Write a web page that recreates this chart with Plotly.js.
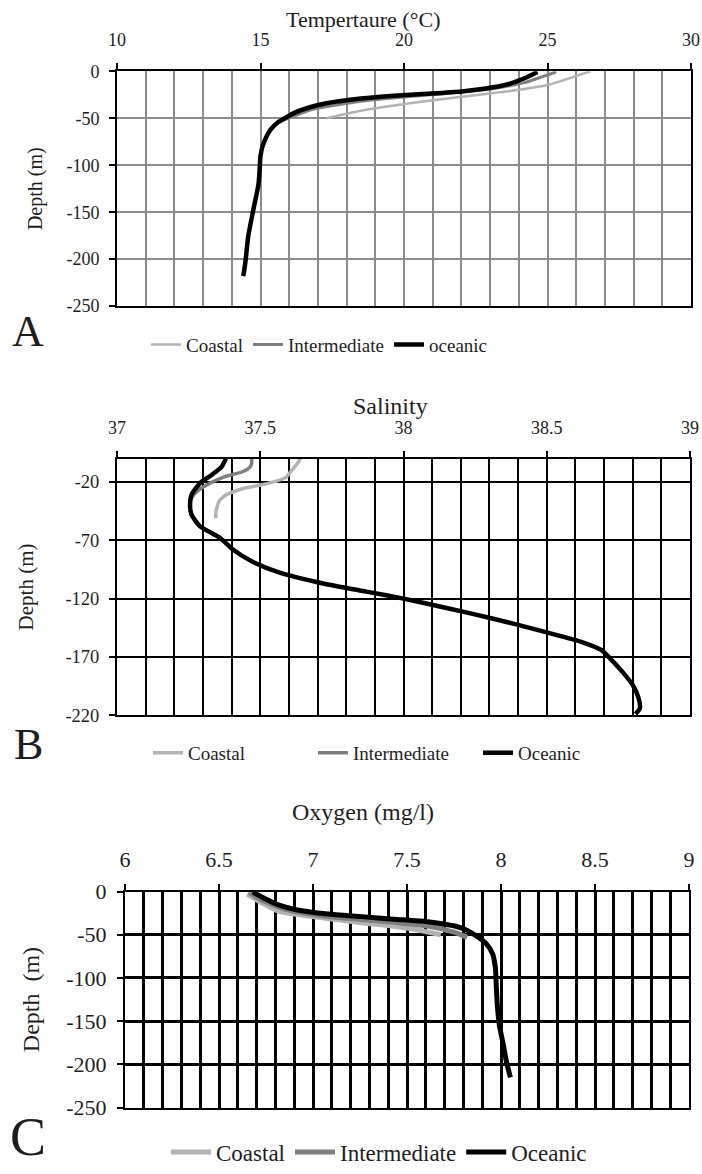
<!DOCTYPE html>
<html>
<head>
<meta charset="utf-8">
<script src="https://cdn.plot.ly/plotly-3.0.1.min.js"></script>
<style>
html,body{margin:0;padding:0;background:#fff;overflow:hidden;}
#chart{width:702px;height:1174px;}
</style>
</head>
<body>
<div id="chart"></div>
<script>
// ---------- DATA ----------
const seriesNamesA = ["Coastal", "Intermediate", "oceanic"];
const seriesNamesBC = ["Coastal", "Intermediate", "Oceanic"];

// Panel A: Temperature (°C) vs depth (m)
const tempCoastalDepth = [0, -6, -10, -14.6, -21, -27, -34, -42, -50];
const tempCoastal      = [26.5, 25.9, 25.5, 25.0, 23.7, 22.0, 20.2, 18.5, 17.3];
const tempInterDepth   = [-0.7, -6, -12, -18, -22, -26, -30, -35, -40, -46, -52];
const tempInter        = [25.3, 24.8, 24.2, 23.2, 22.0, 20.5, 19.0, 17.8, 16.9, 16.3, 15.8];
const tempOceanicDepth = [-0.7, -6, -13, -17, -21.5, -24, -26, -29, -34, -38, -44, -54.5, -62, -70, -80, -90, -99, -110, -120, -130, -140, -152, -166, -176, -190, -204, -218];
const tempOceanic      = [24.65, 24.3, 23.7, 23.1, 22.0, 20.8, 19.65, 18.5, 17.3, 16.75, 16.2, 15.6, 15.35, 15.2, 15.07, 15.0, 14.98, 14.96, 14.93, 14.87, 14.8, 14.72, 14.63, 14.57, 14.52, 14.47, 14.4];

// Panel B: Salinity vs depth (m)
const salCoastalDepth = [0, -4, -8.5, -13, -16, -21, -26, -30, -33, -37, -41, -46, -51];
const salCoastal      = [37.64, 37.63, 37.615, 37.6, 37.59, 37.53, 37.435, 37.39, 37.37, 37.355, 37.35, 37.345, 37.345];
const salInterDepth   = [0, -4, -7, -11, -16, -21, -27, -33, -38, -42];
const salInter        = [37.47, 37.47, 37.465, 37.44, 37.37, 37.325, 37.285, 37.262, 37.255, 37.255];
const salOceanicDepth = [0, -7, -14, -21, -31, -40, -48, -58, -68, -77, -88, -97, -107, -114, -120, -128, -137, -147, -157, -164, -171, -183, -194, -205, -214, -219];
const salOceanic      = [37.38, 37.365, 37.33, 37.29, 37.26, 37.255, 37.26, 37.29, 37.36, 37.40, 37.47, 37.56, 37.72, 37.87, 38.0, 38.15, 38.31, 38.47, 38.62, 38.69, 38.72, 38.765, 38.80, 38.82, 38.825, 38.81];

// Panel C: Oxygen (mg/l) vs depth (m)
const oxyCoastalDepth = [-3, -12, -23, -29, -36, -43, -50];
const oxyCoastal      = [6.65, 6.72, 6.82, 7.0, 7.26, 7.52, 7.68];
const oxyInterDepth   = [-1, -10, -21, -29, -34, -40, -47, -53];
const oxyInter        = [6.66, 6.73, 6.86, 7.08, 7.35, 7.61, 7.75, 7.82];
const oxyOceanicDepth = [-0.5, -6.6, -15.8, -21, -26, -29, -32, -35, -41.5, -50, -60, -72, -88, -110, -130, -153, -175, -198, -215];
const oxyOceanic      = [6.68, 6.73, 6.82, 6.91, 7.08, 7.26, 7.43, 7.61, 7.78, 7.86, 7.92, 7.955, 7.97, 7.975, 7.98, 7.99, 8.01, 8.03, 8.05];

// Tick labels (hyphen-minus, as in the original)
const depthTicksA = [0, -50, -100, -150, -200, -250];
const depthTickTextA = ["0", "-50", "-100", "-150", "-200", "-250"];
const depthTicksB = [-20, -70, -120, -170, -220];
const depthTickTextB = ["-20", "-70", "-120", "-170", "-220"];

// Titles / labels
const titleA = "Tempertaure (°C)";
const titleB = "Salinity";
const titleC = "Oxygen (mg/l)";
const depthTitle = "Depth (m)";
const depthTitleC = "Depth\u00a0 (m)";
const panelLetters = ["A", "B", "C"];

// ---------- LAYOUT HELPERS ----------
const W = 702, H = 1174;
const px = x => x / W;
const py = y => 1 - y / H;
const serif = 'Liberation Serif, Times New Roman, serif';
const txt = '#1e1e1e';
const cCoastal = '#b3b3b3', cInter = '#7f7f7f', cOce = '#000000';

function tr(x, y, name, color, width, xa, ya, leg) {
  return {
    type: 'scatter', mode: 'lines', x: x, y: y, name: name,
    line: {color: color, width: width, shape: 'spline', smoothing: 0.6},
    xaxis: xa, yaxis: ya, legend: leg, hoverinfo: 'skip'
  };
}

const data = [
  tr(tempCoastal, tempCoastalDepth, seriesNamesA[0], cCoastal, 2.5, 'x', 'y', 'legend'),
  tr(tempInter, tempInterDepth, seriesNamesA[1], cInter, 3, 'x', 'y', 'legend'),
  tr(tempOceanic, tempOceanicDepth, seriesNamesA[2], cOce, 4.5, 'x', 'y', 'legend'),
  tr(salCoastal, salCoastalDepth, seriesNamesBC[0], cCoastal, 3.5, 'x2', 'y2', 'legend2'),
  tr(salInter, salInterDepth, seriesNamesBC[1], cInter, 3.5, 'x2', 'y2', 'legend2'),
  tr(salOceanic, salOceanicDepth, seriesNamesBC[2], cOce, 4.5, 'x2', 'y2', 'legend2'),
  tr(oxyCoastal, oxyCoastalDepth, seriesNamesBC[0], cCoastal, 5, 'x3', 'y3', 'legend3'),
  tr(oxyInter, oxyInterDepth, seriesNamesBC[1], cInter, 5, 'x3', 'y3', 'legend3'),
  tr(oxyOceanic, oxyOceanicDepth, seriesNamesBC[2], cOce, 5, 'x3', 'y3', 'legend3')
];

function xax(domain, range, dtick, minorDtick, gridColor, gridW, anchor, fontSize, standoff) {
  return {
    domain: domain, range: range, side: 'top', anchor: anchor,
    tick0: range[0], dtick: dtick, ticks: 'outside', ticklen: 6, tickwidth: 2, tickcolor: '#000',
    showline: true, linewidth: 2, linecolor: '#000', mirror: true,
    showgrid: true, gridcolor: gridColor, gridwidth: gridW, zeroline: false,
    minor: {dtick: minorDtick, showgrid: true, gridcolor: gridColor, gridwidth: gridW, ticks: ''},
    tickfont: {family: serif, size: fontSize, color: txt},
    ticklabelstandoff: standoff, fixedrange: true, automargin: false
  };
}
function yax(domain, range, tickvals, ticktext, gridColor, gridW, anchor, fontSize, title, titleSize, titleStandoff) {
  return {
    domain: domain, range: range, anchor: anchor,
    tickmode: 'array', tickvals: tickvals, ticktext: ticktext,
    ticks: 'outside', ticklen: 6, tickwidth: 2, tickcolor: '#000',
    showline: true, linewidth: 2, linecolor: '#000', mirror: true,
    showgrid: true, gridcolor: gridColor, gridwidth: gridW, zeroline: false,
    tickfont: {family: serif, size: fontSize, color: txt},
    ticklabelstandoff: 6,
    title: {text: title, font: {family: serif, size: titleSize, color: txt}, standoff: titleStandoff},
    fixedrange: true, automargin: false
  };
}

function ann(text, x, y, size) {
  return {text: text, xref: 'paper', yref: 'paper', x: px(x), y: py(y),
          xanchor: 'center', yanchor: 'middle', showarrow: false,
          font: {family: serif, size: size, color: txt}};
}

function leg(x, y, size, extra) {
  return Object.assign({
    orientation: 'h', x: px(x), y: py(y), xanchor: 'left', yanchor: 'middle',
    font: {family: serif, size: size, color: txt}, bgcolor: 'rgba(0,0,0,0)', borderwidth: 0
  }, extra || {});
}

const layout = {
  width: W, height: H,
  margin: {l: 0, r: 0, t: 0, b: 0},
  paper_bgcolor: '#fff', plot_bgcolor: '#fff',
  font: {family: serif, color: txt},
  showlegend: true,
  xaxis:  xax([px(117), px(691)], [10, 30], 5, 1, '#8c8c8c', 2, 'y', 18, 10),
  yaxis:  yax([py(309), py(72)], [-250, 0], depthTicksA, depthTickTextA, '#8c8c8c', 2, 'x', 18, depthTitle, 20, 18),
  xaxis2: xax([px(117), px(690)], [37, 39], 0.5, 0.1, '#000', 2, 'y2', 18, 9),
  yaxis2: yax([py(722), py(463)], [-220, 0], depthTicksB, depthTickTextB, '#000', 2, 'x2', 18.5, depthTitle, 21, 26),
  xaxis3: xax([px(125), px(689)], [6, 9], 0.5, 0.1, '#000', 3, 'y3', 22, 8),
  yaxis3: yax([py(1118), py(900)], [-250, 0], depthTicksA, depthTickTextA, '#000', 3, 'x3', 22, depthTitleC, 24, 20),
  legend:  leg(146, 348, 19),
  legend2: leg(148, 760, 19, {entrywidth: 120, entrywidthmode: 'pixels'}),
  legend3: leg(166, 1163, 23, {itemwidth: 40}),
  annotations: [
    ann(titleA, 363, 20, 22),
    ann(titleB, 390, 410, 24),
    ann(titleC, 363, 820, 24),
    ann(panelLetters[0], 28, 335, 44),
    ann(panelLetters[1], 29, 752, 44),
    ann(panelLetters[2], 28, 1148, 54)
  ]
};

Plotly.newPlot('chart', data, layout, {staticPlot: true, displayModeBar: false});
</script>
</body>
</html>
